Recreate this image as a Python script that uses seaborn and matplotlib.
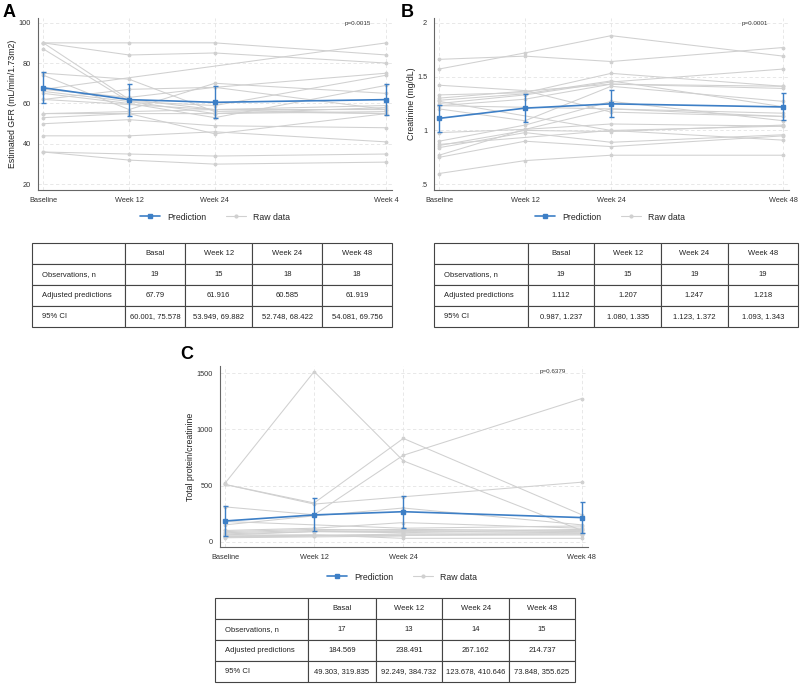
import numpy as np
import pandas as pd
import seaborn as sns
import matplotlib
matplotlib.use("Agg")
import matplotlib.pyplot as plt
from matplotlib.lines import Line2D

## Data
weeks = [0, 12, 24, 48]
nan = np.nan

gfr_raw = [
    [90, 90, 90, 84],
    [90, 84, 85, 80],
    [87, 61, 55, 56],
    [90, 62, 57, 55],
    [75, 72, 56, 55],
    [74, 57, 70, 65],
    [67, 63, 68, 75],
    [66, 61, 59, 74],
    [65, 60, 53, 69],
    [62, 67, 68, 57],
    [55, 56, 57, 59],
    [53, 55, 45, 55],
    [50, 52, 49, 48],
    [44, 44, 46, 41],
    [36, 35, 34, 35],
    [36, 32, 30, 31],
    [62, nan, 57, 57],
    [55, nan, 55, 58],
    [67, nan, nan, 90],
]
gfr_pred = [67.79, 61.916, 60.585, 61.919]
gfr_lo = [60.001, 53.949, 52.748, 54.081]
gfr_hi = [75.578, 69.882, 68.422, 69.756]
gfr_n = [19, 15, 18, 18]

creat_raw = [
    [1.57, 1.72, 1.88, 1.69],
    [1.66, 1.69, 1.64, 1.77],
    [1.42, 1.37, 1.17, 1.13],
    [1.33, 1.35, 1.53, 1.41],
    [1.28, 1.34, 1.46, 1.22],
    [1.25, 1.33, 1.45, 1.57],
    [1.23, 1.29, 1.43, 1.39],
    [1.20, 1.09, 1.41, 1.27],
    [0.98, 1.01, 1.20, 1.16],
    [0.90, 1.05, 1.27, 1.09],
    [0.86, 1.00, 0.99, 1.05],
    [0.84, 0.98, 0.89, 0.96],
    [0.77, 1.01, 1.06, 1.04],
    [0.75, 0.90, 0.85, 0.95],
    [0.60, 0.72, 0.77, 0.77],
    [1.27, nan, 1.00, 0.91],
    [1.30, nan, 1.43, 1.41],
    [0.87, nan, 1.00, 1.04],
    [1.23, nan, 1.20, 1.13],
]
creat_pred = [1.112, 1.207, 1.247, 1.218]
creat_lo = [0.987, 1.080, 1.123, 1.093]
creat_hi = [1.237, 1.335, 1.372, 1.343]
creat_n = [19, 15, 19, 19]

prot_raw = [
    [520, 1515, 720, 100],
    [510, 345, 920, 240],
    [310, 240, 770, 1275],
    [510, 335, 400, 530],
    [150, 230, 300, 150],
    [100, 120, 170, 120],
    [80, 100, 110, 100],
    [60, 90, 90, 80],
    [40, 50, 70, 70],
    [50, 60, 30, 30],
    [70, 90, 80, 110],
    [90, 110, 100, 90],
    [45, 55, nan, 60],
    [180, nan, 120, 140],
    [60, nan, 60, 70],
    [35, nan, 50, nan],
    [100, nan, nan, nan],
]
prot_pred = [184.569, 238.491, 267.162, 214.737]
prot_lo = [49.303, 92.249, 123.678, 73.848]
prot_hi = [319.835, 384.732, 410.646, 355.625]
prot_n = [17, 13, 14, 15]

col_labels = ["", "Basal", "Week 12", "Week 24", "Week 48"]
row_labels = ["Observations, n", "Adjusted predictions", "95% CI"]

W, H = 800, 685
blue = "#3d7fc6"
gray = "#d0d0d0"

sns.set_style("white")
plt.rcParams["font.family"] = ["Liberation Sans", "DejaVu Sans"]

fig = plt.figure(figsize=(W / 100, H / 100), dpi=100)


def box(x0, y0, x1, y1):
    return [x0 / W, 1 - y1 / H, (x1 - x0) / W, (y1 - y0) / H]


def fmt(v):
    s = "{:.3f}".format(v).rstrip("0")
    return s


def draw_panel(rect, raw, pred, lo, hi, ylabel, yticks, yticklabels, ylim, xlim,
               xlabels, pval):
    ax = fig.add_axes(box(*rect))
    df = pd.DataFrame(raw, columns=weeks)
    df["subject"] = range(len(df))
    long = df.melt(id_vars="subject", var_name="week", value_name="value").dropna()
    long["week"] = long["week"].astype(float)
    sns.lineplot(data=long, x="week", y="value", units="subject", estimator=None,
                 color=gray, lw=0.75, marker="o", markersize=2.0, mec=gray,
                 sort=True, ax=ax, legend=False)
    pred = np.array(pred)
    yerr = [pred - np.array(lo), np.array(hi) - pred]
    ax.errorbar(weeks, pred, yerr=yerr, color=blue, lw=1.2, marker="s",
                markersize=2.5, capsize=1.8, elinewidth=1.0, capthick=1.0, zorder=5)
    ax.set_xlim(*xlim)
    ax.set_ylim(*ylim)
    ax.set_xticks(weeks)
    ax.set_xticklabels(xlabels, fontsize=5.3, color="#333333")
    ax.set_yticks(yticks)
    ax.set_yticklabels(yticklabels, fontsize=5.3, color="#333333")
    ax.set_xlabel("")
    ax.set_ylabel(ylabel, fontsize=6.3, color="#222222", labelpad=0.8)
    ax.grid(True, ls=(0, (4, 3)), color="#e4e4e4", lw=0.6)
    ax.set_axisbelow(True)
    for s in ["top", "right"]:
        ax.spines[s].set_visible(False)
    for s in ["left", "bottom"]:
        ax.spines[s].set_color("#666666")
        ax.spines[s].set_linewidth(0.8)
    ax.tick_params(axis="both", length=3, width=0.7, color="#666666", pad=2)
    ax.text(0.94, 0.985, pval, transform=ax.transAxes, fontsize=4.5,
            ha="right", va="top", color="#333333")
    return ax


def draw_legend(cx, cy):
    handles = [
        Line2D([], [], color=blue, lw=1.2, marker="s", markersize=2.5),
        Line2D([], [], color=gray, lw=0.8, marker="o", markersize=2),
    ]
    fig.legend(handles, ["Prediction", "Raw data"], loc="center",
               bbox_to_anchor=(cx / W, 1 - cy / H), ncol=2, frameon=False,
               fontsize=6.3, handlelength=2.3, columnspacing=2.2, handletextpad=0.8)


def draw_table(rect, n, pred, lo, hi, colx):
    ax = fig.add_axes(box(*rect))
    ax.axis("off")
    rows = [
        ["Observations, n"] + [str(v) for v in n],
        ["Adjusted predictions"] + [fmt(v) for v in pred],
        ["95% CI"] + ["{:.3f}, {:.3f}".format(a, b) for a, b in zip(lo, hi)],
    ]
    total = colx[-1] - colx[0]
    widths = [(colx[i + 1] - colx[i]) / total for i in range(5)]
    tab = ax.table(cellText=rows, colLabels=col_labels, colWidths=widths,
                   bbox=[0, 0, 1, 1], cellLoc="center")
    tab.auto_set_font_size(False)
    for (r, c), cell in tab.get_celld().items():
        cell.set_fontsize(5.5)
        cell.set_edgecolor("#444444")
        cell.set_linewidth(0.8)
        cell.get_text().set_color("#222222")
        if c == 0:
            cell.get_text().set_ha("left")
            cell.PAD = 0.11
            cell._loc = "left"
    return ax


xl48 = ["Baseline", "Week 12", "Week 24", "Week 48"]

draw_panel((37.7, 18, 392, 190), gfr_raw, gfr_pred, gfr_lo, gfr_hi,
           "Estimated GFR (mL/min/1.73m2)", [20, 40, 60, 80, 100],
           ["20", "40", "60", "80", "100"], (17.2, 102.3), (-0.78, 48.77),
           ["Baseline", "Week 12", "Week 24", "Week 4"], "p=0.0015")
draw_panel((434, 18, 789, 190), creat_raw, creat_pred, creat_lo, creat_hi,
           "Creatinine (mg/dL)", [0.5, 1, 1.5, 2], [".5", "1", "1.5", "2"],
           (0.447, 2.044), (-0.7, 48.8), xl48, "p=0.0001")
draw_panel((220, 366, 588, 547.3), prot_raw, prot_pred, prot_lo, prot_hi,
           "Total protein/creatinine", [0, 500, 1000, 1500],
           ["0", "500", "1000", "1500"], (-50, 1565), (-0.67, 48.85), xl48,
           "p=0.6379")

draw_legend(215, 217)
draw_legend(610, 217)
draw_legend(402, 577)

draw_table((31.7, 243, 391.7, 326.7), gfr_n, gfr_pred, gfr_lo, gfr_hi,
           [31.7, 125, 185, 252.3, 322.3, 391.7])
draw_table((434, 243.3, 798.3, 326.7), creat_n, creat_pred, creat_lo, creat_hi,
           [434, 527.7, 594.3, 661, 727.7, 798.3])
draw_table((215, 598.3, 575, 682.3), prot_n, prot_pred, prot_lo, prot_hi,
           [215, 308.3, 375.7, 442.3, 509, 575])

for lab, x, y in [("A", 3, 4), ("B", 401, 4), ("C", 180, 346)]:
    fig.text(x / W, 1 - y / H, lab, fontsize=13, fontweight="bold",
             ha="left", va="top", color="black")

fig.savefig("out.png", dpi=100)
